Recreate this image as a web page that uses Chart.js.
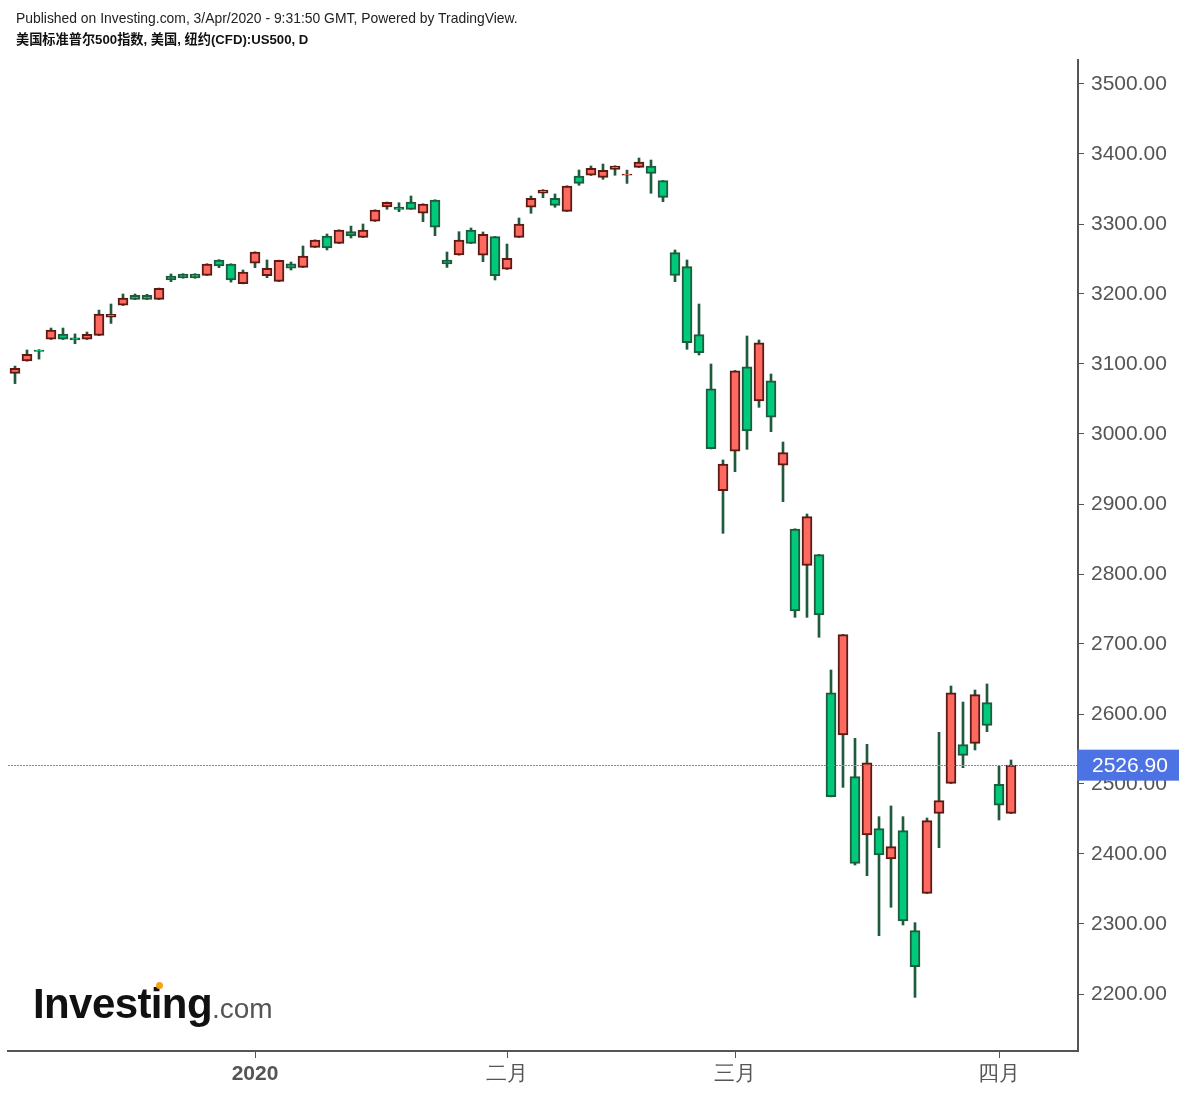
<!DOCTYPE html>
<html>
<head>
<meta charset="utf-8">
<script src="https://cdn.jsdelivr.net/npm/chart.js@4.4.1/dist/chart.umd.min.js"></script>
<style>
  html, body { margin: 0; padding: 0; background: #fff; }
  #wrap { position: relative; width: 1186px; height: 1094px; overflow: hidden; }
  #chart { position: absolute; left: 0; top: 0; }
  .pub { position: absolute; left: 16px; top: 10px; font: 13.9px "Liberation Sans", Arial, sans-serif; color: #222; white-space: nowrap; line-height: 16px; }
  .sym { position: absolute; left: 16px; top: 32px; font: bold 13.2px "Liberation Sans", "Noto Sans CJK SC", sans-serif; color: #111; white-space: nowrap; line-height: 16px; }
  .logo { position: absolute; left: 33px; top: 980px; line-height: 42px; white-space: nowrap; }
  .logo .inv { font: bold 42px "Liberation Sans", Arial, sans-serif; color: #111; letter-spacing: -0.6px; }
  .logo .com { font: 28px "Liberation Sans", Arial, sans-serif; color: #555; }
  .logo .dot { position: absolute; left: 123px; top: 2px; width: 7px; height: 7px; border-radius: 50%; background: #f7a21b; }
</style>
</head>
<body>
<div id="wrap">
  <canvas id="chart" width="1186" height="1094"></canvas>
  <div class="pub">Published on Investing.com, 3/Apr/2020 - 9:31:50 GMT, Powered by TradingView.</div>
  <div class="sym">美国标准普尔500指数, 美国, 纽约(CFD):US500, D</div>
  <div class="logo"><span class="inv">Investing</span><span class="com">.com</span><i class="dot"></i></div>
</div>
<script>
// daily bars, US500 CFD
const dates = [
  "2019-12-03","2019-12-04","2019-12-05","2019-12-06","2019-12-09","2019-12-10","2019-12-11","2019-12-12","2019-12-13","2019-12-16",
  "2019-12-17","2019-12-18","2019-12-19","2019-12-20","2019-12-23","2019-12-24","2019-12-26","2019-12-27","2019-12-30","2019-12-31",
  "2020-01-02","2020-01-03","2020-01-06","2020-01-07","2020-01-08","2020-01-09","2020-01-10","2020-01-13","2020-01-14","2020-01-15",
  "2020-01-16","2020-01-17","2020-01-21","2020-01-22","2020-01-23","2020-01-24","2020-01-27","2020-01-28","2020-01-29","2020-01-30",
  "2020-01-31","2020-02-03","2020-02-04","2020-02-05","2020-02-06","2020-02-07","2020-02-10","2020-02-11","2020-02-12","2020-02-13",
  "2020-02-14","2020-02-18","2020-02-19","2020-02-20","2020-02-21","2020-02-24","2020-02-25","2020-02-26","2020-02-27","2020-02-28",
  "2020-03-02","2020-03-03","2020-03-04","2020-03-05","2020-03-06","2020-03-09","2020-03-10","2020-03-11","2020-03-12","2020-03-13",
  "2020-03-16","2020-03-17","2020-03-18","2020-03-19","2020-03-20","2020-03-23","2020-03-24","2020-03-25","2020-03-26","2020-03-27",
  "2020-03-30","2020-03-31","2020-04-01","2020-04-02"
];

const opens = [
  3086.7, 3104.3, 3120, 3135.3, 3142.9, 3137.5, 3135.3, 3141, 3167, 3183.9,
  3198, 3198, 3192.4, 3225.7, 3228.6, 3228.6, 3226.7, 3248.6, 3242.9, 3214.7,
  3243.9, 3226.2, 3218.1, 3243, 3238.1, 3266.7, 3282.9, 3272.4, 3289, 3281,
  3303.9, 3324.3, 3324, 3331.4, 3315.3, 3334.3, 3248.6, 3255.7, 3291.4, 3255.3,
  3281.9, 3235.3, 3281, 3323.9, 3343.9, 3336.7, 3318.1, 3368.6, 3369.6, 3366.7,
  3378.1, 3369.6, 3381, 3382.9, 3361.9, 3259, 3239, 3141.9, 3064.7, 2919,
  2975.3, 3096.1, 3047.1, 3076.1, 2955.3, 2864.3, 2812.4, 2827.6, 2630.4, 2570,
  2510.5, 2427.1, 2436.2, 2392.9, 2433.3, 2290.5, 2343.8, 2458.1, 2501, 2556.2,
  2558.1, 2616.2, 2499.6, 2458.1
];

const highs = [
  3097, 3120, 3120.5, 3151.4, 3151.4, 3143, 3145.7, 3177, 3185.7, 3200,
  3200, 3199.5, 3208.5, 3228.6, 3229, 3229, 3243.3, 3249, 3243.2, 3234.3,
  3260.3, 3248.6, 3248.4, 3245.7, 3268.6, 3277.4, 3285.7, 3291.7, 3297, 3300,
  3320.3, 3331.4, 3330.4, 3340, 3328.9, 3334.6, 3260, 3289, 3294.3, 3288.6,
  3282.2, 3271.4, 3308.6, 3340, 3349, 3342.9, 3354.6, 3377.1, 3382.9, 3385.7,
  3383.2, 3377, 3394.3, 3391.4, 3362.2, 3262.9, 3248.6, 3185.7, 3100, 2962.9,
  3090.7, 3140, 3134.3, 3085.7, 2988.6, 2864.6, 2885.7, 2827.9, 2662.9, 2713.6,
  2565.2, 2556.7, 2453.3, 2468.6, 2453.3, 2301.9, 2451.4, 2573.8, 2640, 2617.1,
  2634.3, 2642.9, 2525.7, 2534.3
];

const lows = [
  3072, 3104, 3107, 3135, 3135, 3129, 3135, 3140.5, 3158, 3183.5,
  3192, 3192, 3192, 3217.6, 3222.5, 3222.5, 3226.5, 3237.6, 3217, 3214.5,
  3237.6, 3223.3, 3217.8, 3234.3, 3237.8, 3266.4, 3262.9, 3272.1, 3280, 3280.7,
  3303.6, 3321, 3317.6, 3321, 3303.3, 3283.3, 3238, 3255.4, 3272, 3246.2,
  3220, 3235, 3280.7, 3315.3, 3337.6, 3323.9, 3317.8, 3355.3, 3369.3, 3363.9,
  3369.6, 3358, 3380.7, 3343.9, 3331.9, 3217.6, 3121, 3112.9, 2978.7, 2858.1,
  2946.2, 2978.1, 3038.1, 3003.3, 2903.3, 2738.1, 2738.1, 2709.6, 2481.6, 2495.2,
  2384.3, 2369, 2283.3, 2323.9, 2298.6, 2195.2, 2343.5, 2409, 2500.7, 2523.3,
  2548.6, 2574.8, 2448.6, 2457.8
];

const closes = [
  3093.9, 3113.9, 3118, 3148.6, 3135.3, 3134.5, 3142.4, 3171.4, 3171, 3194.3,
  3192.4, 3192.4, 3208.1, 3220, 3222.9, 3223, 3242.9, 3240, 3220, 3231.4,
  3260, 3236.7, 3248.1, 3237, 3254.3, 3277.1, 3265.7, 3291.4, 3282.9, 3291.4,
  3320, 3331, 3321, 3321, 3328.6, 3295.3, 3242.9, 3277.1, 3272.4, 3285.3,
  3226.2, 3251, 3300, 3336.7, 3348.6, 3326.7, 3354.3, 3358.1, 3379.6, 3376.7,
  3382.9, 3371.4, 3388.6, 3372.4, 3338.1, 3226.7, 3130.4, 3116.1, 2979, 2957.1,
  3090.4, 3004.3, 3130.4, 3023.9, 2973.3, 2747.1, 2881.9, 2741.4, 2481.9, 2713.3,
  2386.7, 2530.4, 2398.6, 2410.5, 2304.3, 2239, 2447.6, 2476.2, 2630.4, 2541,
  2627.6, 2583.8, 2469.6, 2526.9
];

const yTicks = [2200, 2300, 2400, 2500, 2600, 2700, 2800, 2900, 3000, 3100, 3200, 3300, 3400, 3500];
const xTickDates = ["2020-01-02", "2020-02-03", "2020-03-02", "2020-04-01"];
const xTickText = ["2020", "二月", "三月", "四月"];

const lastPrice = closes[closes.length - 1];

const UP_FILL = "#ff6a60";
const UP_LINE = "#5c1a15";
const DOWN_FILL = "#00c97b";
const DOWN_LINE = "#1d5c3c";
const WICK = "#1f5a3c";
const AXIS = "#555555";
const FONT = '"Liberation Sans", Arial, sans-serif';

const xTickIdx = xTickDates.map((d) => dates.indexOf(d));
const isUp = opens.map((o, i) => closes[i] >= o);

const bodyData = opens.map((o, i) => ({ x: i, y: [o, closes[i]] }));
const wickData = lows.map((l, i) => ({ x: i, y: [l, highs[i]] }));

const lastPricePlugin = {
  id: "lastPrice",
  afterDatasetsDraw(chart) {
    const { ctx, chartArea, scales } = chart;
    const y = Math.round(scales.y.getPixelForValue(lastPrice)) + 0.5;
    ctx.save();
    ctx.strokeStyle = "#6a86ec";
    ctx.lineWidth = 1;
    ctx.setLineDash([2, 1]);
    ctx.beginPath();
    ctx.moveTo(chartArea.left, y);
    ctx.lineTo(chartArea.right, y);
    ctx.stroke();
    ctx.restore();
  },
  afterDraw(chart) {
    const { ctx, chartArea, scales } = chart;
    const y = scales.y.getPixelForValue(lastPrice);
    ctx.save();
    ctx.fillStyle = "#4d72e3";
    ctx.fillRect(chartArea.right - 1, y - 15.5, 102, 31);
    ctx.fillStyle = "#ffffff";
    ctx.font = "21px " + FONT;
    ctx.textBaseline = "middle";
    ctx.textAlign = "left";
    ctx.fillText(lastPrice.toFixed(2), chartArea.right + 14, y + 1);
    ctx.restore();
  }
};

new Chart(document.getElementById("chart"), {
  type: "bar",
  data: {
    datasets: [
      {
        label: "body",
        data: bodyData,
        grouped: false,
        barThickness: 10,
        borderWidth: 2,
        borderSkipped: false,
        backgroundColor: isUp.map((u) => (u ? UP_FILL : DOWN_FILL)),
        borderColor: isUp.map((u) => (u ? UP_LINE : DOWN_LINE)),
        order: 0
      },
      {
        label: "wick",
        data: wickData,
        grouped: false,
        barThickness: 2,
        borderWidth: 0,
        backgroundColor: WICK,
        order: 1
      }
    ]
  },
  options: {
    responsive: false,
    animation: false,
    layout: { padding: { top: 60, left: 8, right: 0, bottom: 0 } },
    plugins: { legend: { display: false }, tooltip: { enabled: false } },
    scales: {
      x: {
        type: "linear",
        offset: false,
        min: -7 / 12,
        max: 83 + 67 / 12,
        afterBuildTicks(scale) {
          scale.ticks = xTickIdx.map((v) => ({ value: v }));
        },
        afterFit(scale) {
          scale.height = 43;
        },
        ticks: {
          autoSkip: false,
          maxRotation: 0,
          padding: 4,
          color: AXIS,
          font: (c) => ({
            family: FONT,
            size: 21,
            weight: c.tick && c.tick.label === "2020" ? "bold" : "normal"
          }),
          callback: (v) => xTickText[xTickIdx.indexOf(v)]
        },
        grid: { display: true, offset: false, drawOnChartArea: false, drawTicks: true, tickLength: 7, color: AXIS, lineWidth: 1 },
        border: { display: true, color: AXIS, width: 2 }
      },
      y: {
        type: "linear",
        position: "right",
        min: 3500 - (1051 - 84) / 0.7,
        max: 3500 + (84 - 60) / 0.7,
        afterBuildTicks(scale) {
          scale.ticks = yTicks.map((v) => ({ value: v }));
        },
        afterFit(scale) {
          scale.width = 108;
        },
        ticks: {
          padding: 7,
          color: AXIS,
          font: { family: FONT, size: 21 },
          callback: (v) => Number(v).toFixed(2)
        },
        grid: { display: true, drawOnChartArea: false, drawTicks: true, tickLength: 6, color: AXIS, lineWidth: 1 },
        border: { display: true, color: AXIS, width: 2 }
      }
    }
  },
  plugins: [lastPricePlugin]
});
</script>
</body>
</html>
